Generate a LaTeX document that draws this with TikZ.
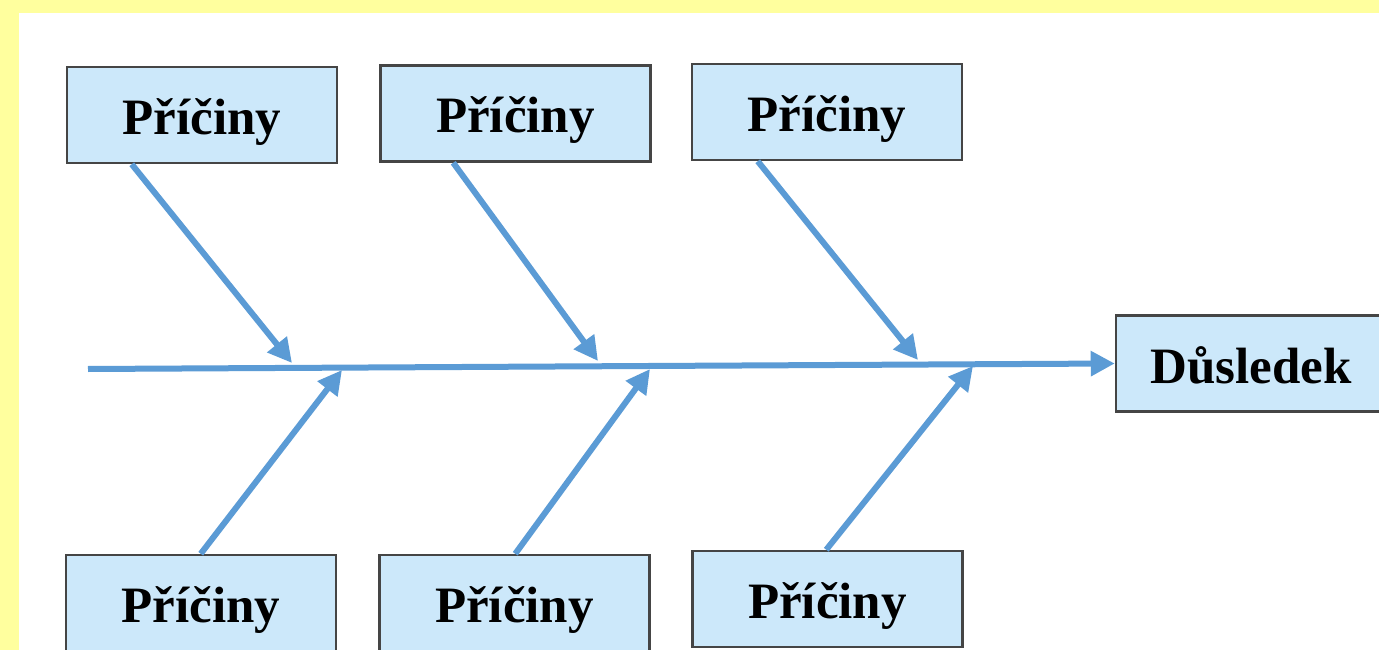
\documentclass[tikz,border=0pt]{standalone}
\usepackage{fontspec}
\setmainfont{Liberation Serif}
\usetikzlibrary{arrows.meta,calc}
\definecolor{bgyellow}{HTML}{FFFF9E}
\definecolor{boxfill}{HTML}{CCE8FA}
\definecolor{boxline}{HTML}{454545}
\definecolor{bone}{HTML}{5B9BD5}
\tikzset{
  cause/.style={draw=boxline,line width=2.5pt,fill=boxfill,minimum width=270pt,minimum height=96pt,inner sep=0pt,text height=39pt,text depth=0pt,font=\fontsize{51}{60}\selectfont\bfseries},
  bonearrow/.style={draw=bone,line width=6pt,-{Triangle[length=24pt,width=24pt]}},
}
\begin{document}
\begin{tikzpicture}[x=1pt,y=-1pt]
\fill[bgyellow] (0,0) rectangle (1379,650);
\fill[white] (19,13) rectangle (1379,650);
\useasboundingbox (0,0) rectangle (1379,650);
\node[cause] (t1) at (202,115) {Příčiny};
\node[cause] (t2) at (515.5,113.5) {Příčiny};
\node[cause] (t3) at (827,112) {Příčiny};
\node[cause] (b1) at (201,603) {Příčiny};
\node[cause] (b2) at (514.5,603) {Příčiny};
\node[cause] (b3) at (827.5,599) {Příčiny};
\node[cause] (eff) at (1251,363.5) {Důsledek};
\coordinate (s0) at (88,369);
\coordinate (tp1) at (292,363);
\coordinate (tp2) at (598,361);
\coordinate (tp3) at (918,360);
\coordinate (bp1) at (342,370);
\coordinate (bp2) at (650,369);
\coordinate (bp3) at (973,366);
\draw[bonearrow] (s0) -- (eff.west);
\draw[bonearrow] ($(t1.south west)+(66,0)$) -- (tp1);
\draw[bonearrow] ($(t2.south west)+(74,0)$) -- (tp2);
\draw[bonearrow] ($(t3.south west)+(67,0)$) -- (tp3);
\draw[bonearrow] ($(b1.north west)+(136,0)$) -- (bp1);
\draw[bonearrow] ($(b2.north west)+(137,0)$) -- (bp2);
\draw[bonearrow] ($(b3.north west)+(135,0)$) -- (bp3);
\end{tikzpicture}
\end{document}
